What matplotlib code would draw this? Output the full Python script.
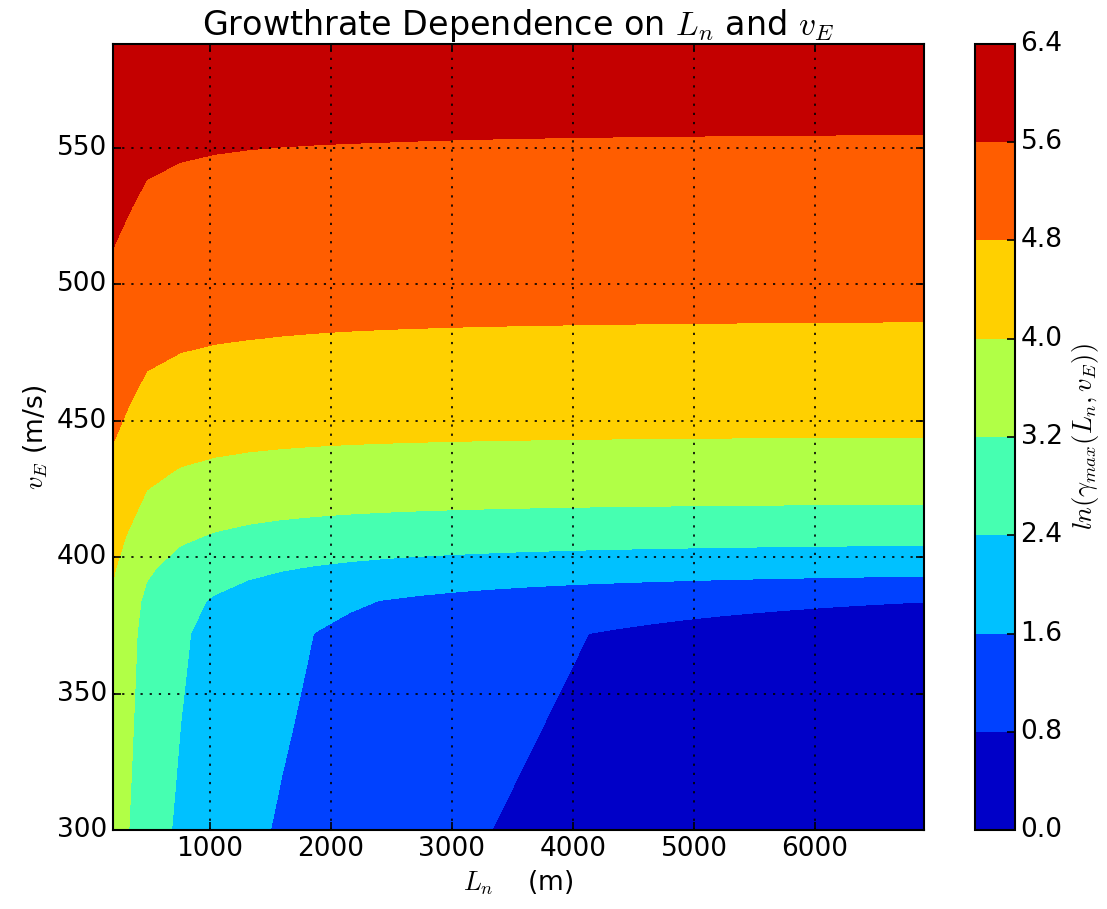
import numpy as np
import matplotlib
matplotlib.use('Agg')
import matplotlib.pyplot as plt

# Density gradient scale lengths (m) and drift speeds (m/s) of the scan
L_n = [200, 479, 758, 1037, 1317, 1596, 1875, 2154, 2433, 2713, 2992, 3271, 3550,
       3829, 4108, 4388, 4667, 4946, 5225, 5504, 5783, 6063, 6342, 6621, 6900]
v_E = [300, 312, 324, 336, 348, 360, 372, 384, 396, 408, 420, 432, 444,
       456, 468, 480, 492, 504, 516, 528, 540, 552, 564, 576, 588]

# gradient-drift coefficient (rate = coef * v_E / L_n) for each v_E row
gd_coef = [24.7, 24.7, 24.7, 24.7, 24.7, 24.7, 24.7, 25.5, 27.0, 28.5, 30.0, 31.5, 33.0,
           35.0, 37.0, 38.5, 39.5, 40.5, 41.3, 42.2, 43.2, 44.2, 45.2, 46.2, 47.2]
# two-stream part of the growth rate (1/s) for each v_E row
fb_rate = [0.0, 0.0, 0.0, 0.0, 0.0, 0.0, 0.0, 0.85, 4.87, 12.33, 23.45, 35.21, 52.48,
           66.82, 85.11, 108.2, 129.5, 148.9, 171.2, 196.9, 226.4, 260.4, 288.8, 318.0, 350.3]

levels = [0.0, 0.8, 1.6, 2.4, 3.2, 4.0, 4.8, 5.6, 6.4]
x_ticks = [1000, 2000, 3000, 4000, 5000, 6000]
y_ticks = [300, 350, 400, 450, 500, 550]

plt.style.use('classic')
plt.rcParams['mathtext.fontset'] = 'cm'
fs = 19

L = np.array(L_n, dtype=float)
v = np.array(v_E, dtype=float)
gamma_max = (np.array(gd_coef)[:, None] * v[:, None] / L[None, :]
             + np.array(fb_rate)[:, None])

fig = plt.figure(figsize=(11.07, 9.09), dpi=100)
ax = fig.add_axes([0.102, 0.0869, 0.7327, 0.8647])
cax = fig.add_axes([0.8808, 0.0869, 0.0361, 0.8647])

cs = ax.contourf(L, v, np.log(gamma_max), levels=levels, cmap='jet')
ax.grid(True, color='k', linestyle=(0, (1.6, 5)), linewidth=1.2)
ax.set_xlim(L_n[0], L_n[-1])
ax.set_ylim(v_E[0], v_E[-1])
ax.set_xticks(x_ticks)
ax.set_yticks(y_ticks)
ax.tick_params(labelsize=fs, length=6, width=1.2)
for s in ax.spines.values():
    s.set_linewidth(1.5)
ax.set_xlabel(r'$L_n$    (m)', fontsize=fs)
ax.set_ylabel(r'$v_E$ (m/s)', fontsize=fs)
ax.set_title(r'Growthrate Dependence on $L_n$ and $v_E$', fontsize=24, y=1.003)

cb = fig.colorbar(cs, cax=cax, ticks=levels)
cb.ax.tick_params(labelsize=fs, length=6, width=1.2)
cb.outline.set_linewidth(1.5)
cb.set_label(r'$ln(\gamma_{max}(L_n,v_E))$', fontsize=fs)

fig.savefig('out.png', dpi=100, facecolor='white')
